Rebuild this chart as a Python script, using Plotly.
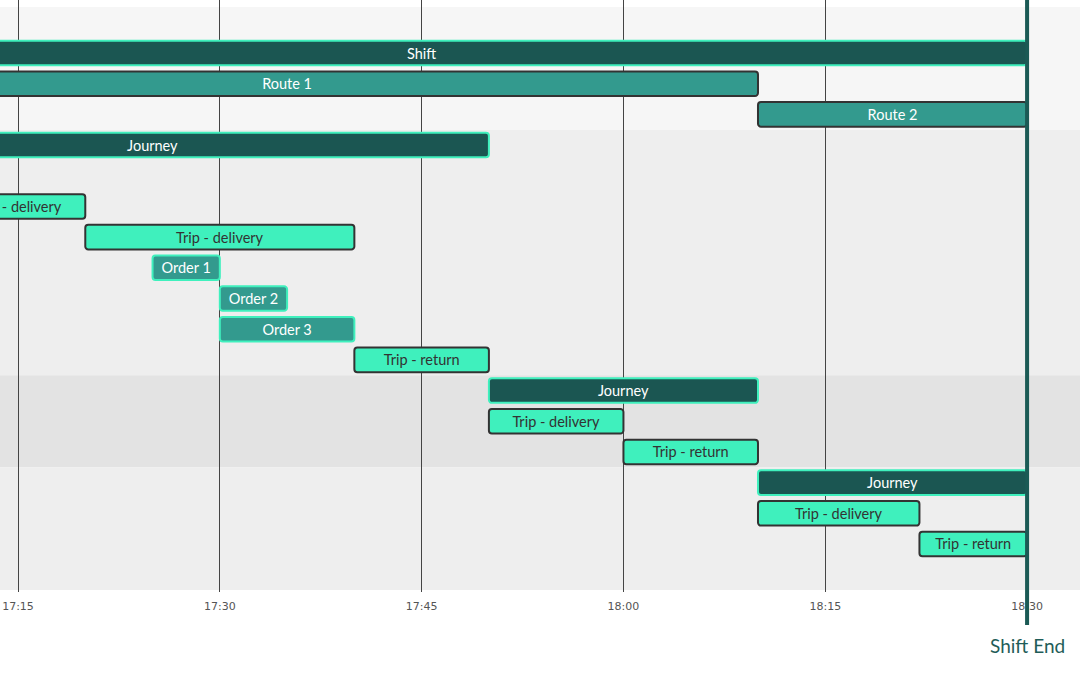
import pandas as pd
import plotly.graph_objects as go

DAY = "2024-01-01 "

# one entry per row of the chart (None = empty row)
row_labels = [None, "Shift", "Route 1", "Route 2", "Journey", None,
              "Trip - delivery", "Trip - delivery", "Order 1", "Order 2", "Order 3", "Trip - return",
              "Journey", "Trip - delivery", "Trip - return",
              "Journey", "Trip - delivery", "Trip - return", None]
row_start = [None, "17:00", "17:00", "18:10", "17:00", None,
             "17:10", "17:20", "17:25", "17:30", "17:30", "17:40",
             "17:50", "17:50", "18:00",
             "18:10", "18:10", "18:22", None]
row_end = [None, "18:30", "18:10", "18:30", "17:50", None,
           "17:20", "17:40", "17:30", "17:35", "17:40", "17:50",
           "18:10", "18:00", "18:10",
           "18:30", "18:22", "18:30", None]
row_kind = [None, "shift", "route", "route", "shift", None,
            "trip", "trip", "order", "order", "order", "trip",
            "shift", "trip", "trip",
            "shift", "trip", "trip", None]

# section bands: (first row, last row)
sections = [(0, 3), (4, 11), (12, 14), (15, 18)]
section_colors = ["#f6f6f6", "#eeeeee", "#e3e3e3", "#eeeeee"]

marker_time = "18:30"
marker_label = "Shift End"

styles = {
    "shift": dict(fill="#1b5652", line="#3ff0bd", text="#ffffff"),
    "route": dict(fill="#339a8e", line="#333333", text="#ffffff"),
    "order": dict(fill="#339a8e", line="#3ff0bd", text="#ffffff"),
    "trip": dict(fill="#3ff0bd", line="#333333", text="#333333"),
}

df = pd.DataFrame({"row": range(len(row_labels)), "label": row_labels,
                   "start": row_start, "end": row_end, "kind": row_kind}).dropna()
df["t0"] = pd.to_datetime(DAY + df["start"])
df["t1"] = pd.to_datetime(DAY + df["end"])
df["dur"] = (df["t1"] - df["t0"]).dt.total_seconds() * 1000

fig = go.Figure(go.Bar(
    y=df["row"], x=df["dur"], base=df["t0"], orientation="h",
    width=0.8, text=df["label"], textposition="inside",
    insidetextanchor="middle", constraintext="none",
    textfont=dict(family="Lato, sans-serif", size=14.5,
                  color=[styles[k]["text"] for k in df["kind"]]),
    marker=dict(color=[styles[k]["fill"] for k in df["kind"]],
                line=dict(color=[styles[k]["line"] for k in df["kind"]], width=2)),
    hoverinfo="text", showlegend=False,
))

for (r0, r1), col in zip(sections, section_colors):
    fig.add_shape(type="rect", xref="paper", x0=0, x1=1, y0=r0 - 0.5, y1=r1 + 0.5,
                  fillcolor=col, line_width=0, layer="below")

px_per_row = 583 / 19
fig.add_shape(type="line", x0=DAY + marker_time, x1=DAY + marker_time,
              yref="paper", y0=-33 / 592, y1=1,
              line=dict(color="#1b5a55", width=4), layer="above")
fig.add_annotation(x=DAY + marker_time, yref="paper", y=-53 / 592, text=marker_label,
                   showarrow=False, yanchor="middle",
                   font=dict(family="Lato, sans-serif", size=19, color="#1f5d58"))

fig.update_layout(
    width=1080, height=675, margin=dict(l=0, r=0, t=0, b=83),
    plot_bgcolor="white", paper_bgcolor="white", barcornerradius=3,
    xaxis=dict(type="date", range=[DAY + "17:13:39.7", DAY + "18:33:56"],
               tick0=DAY + "17:15", dtick=900000, tickformat="%H:%M",
               showgrid=True, gridcolor="#444444", gridwidth=1, zeroline=False,
               showline=False, ticks="", ticklabelstandoff=6,
               tickfont=dict(family="DejaVu Sans, sans-serif", size=11, color="#555555")),
    yaxis=dict(range=[18.5 + 2 / px_per_row, -0.5 - 7 / px_per_row],
               showgrid=False, zeroline=False, showticklabels=False, ticks=""),
)

fig.write_html("out.html", config={"displayModeBar": False},
               post_script="document.body.style.margin='0';")
